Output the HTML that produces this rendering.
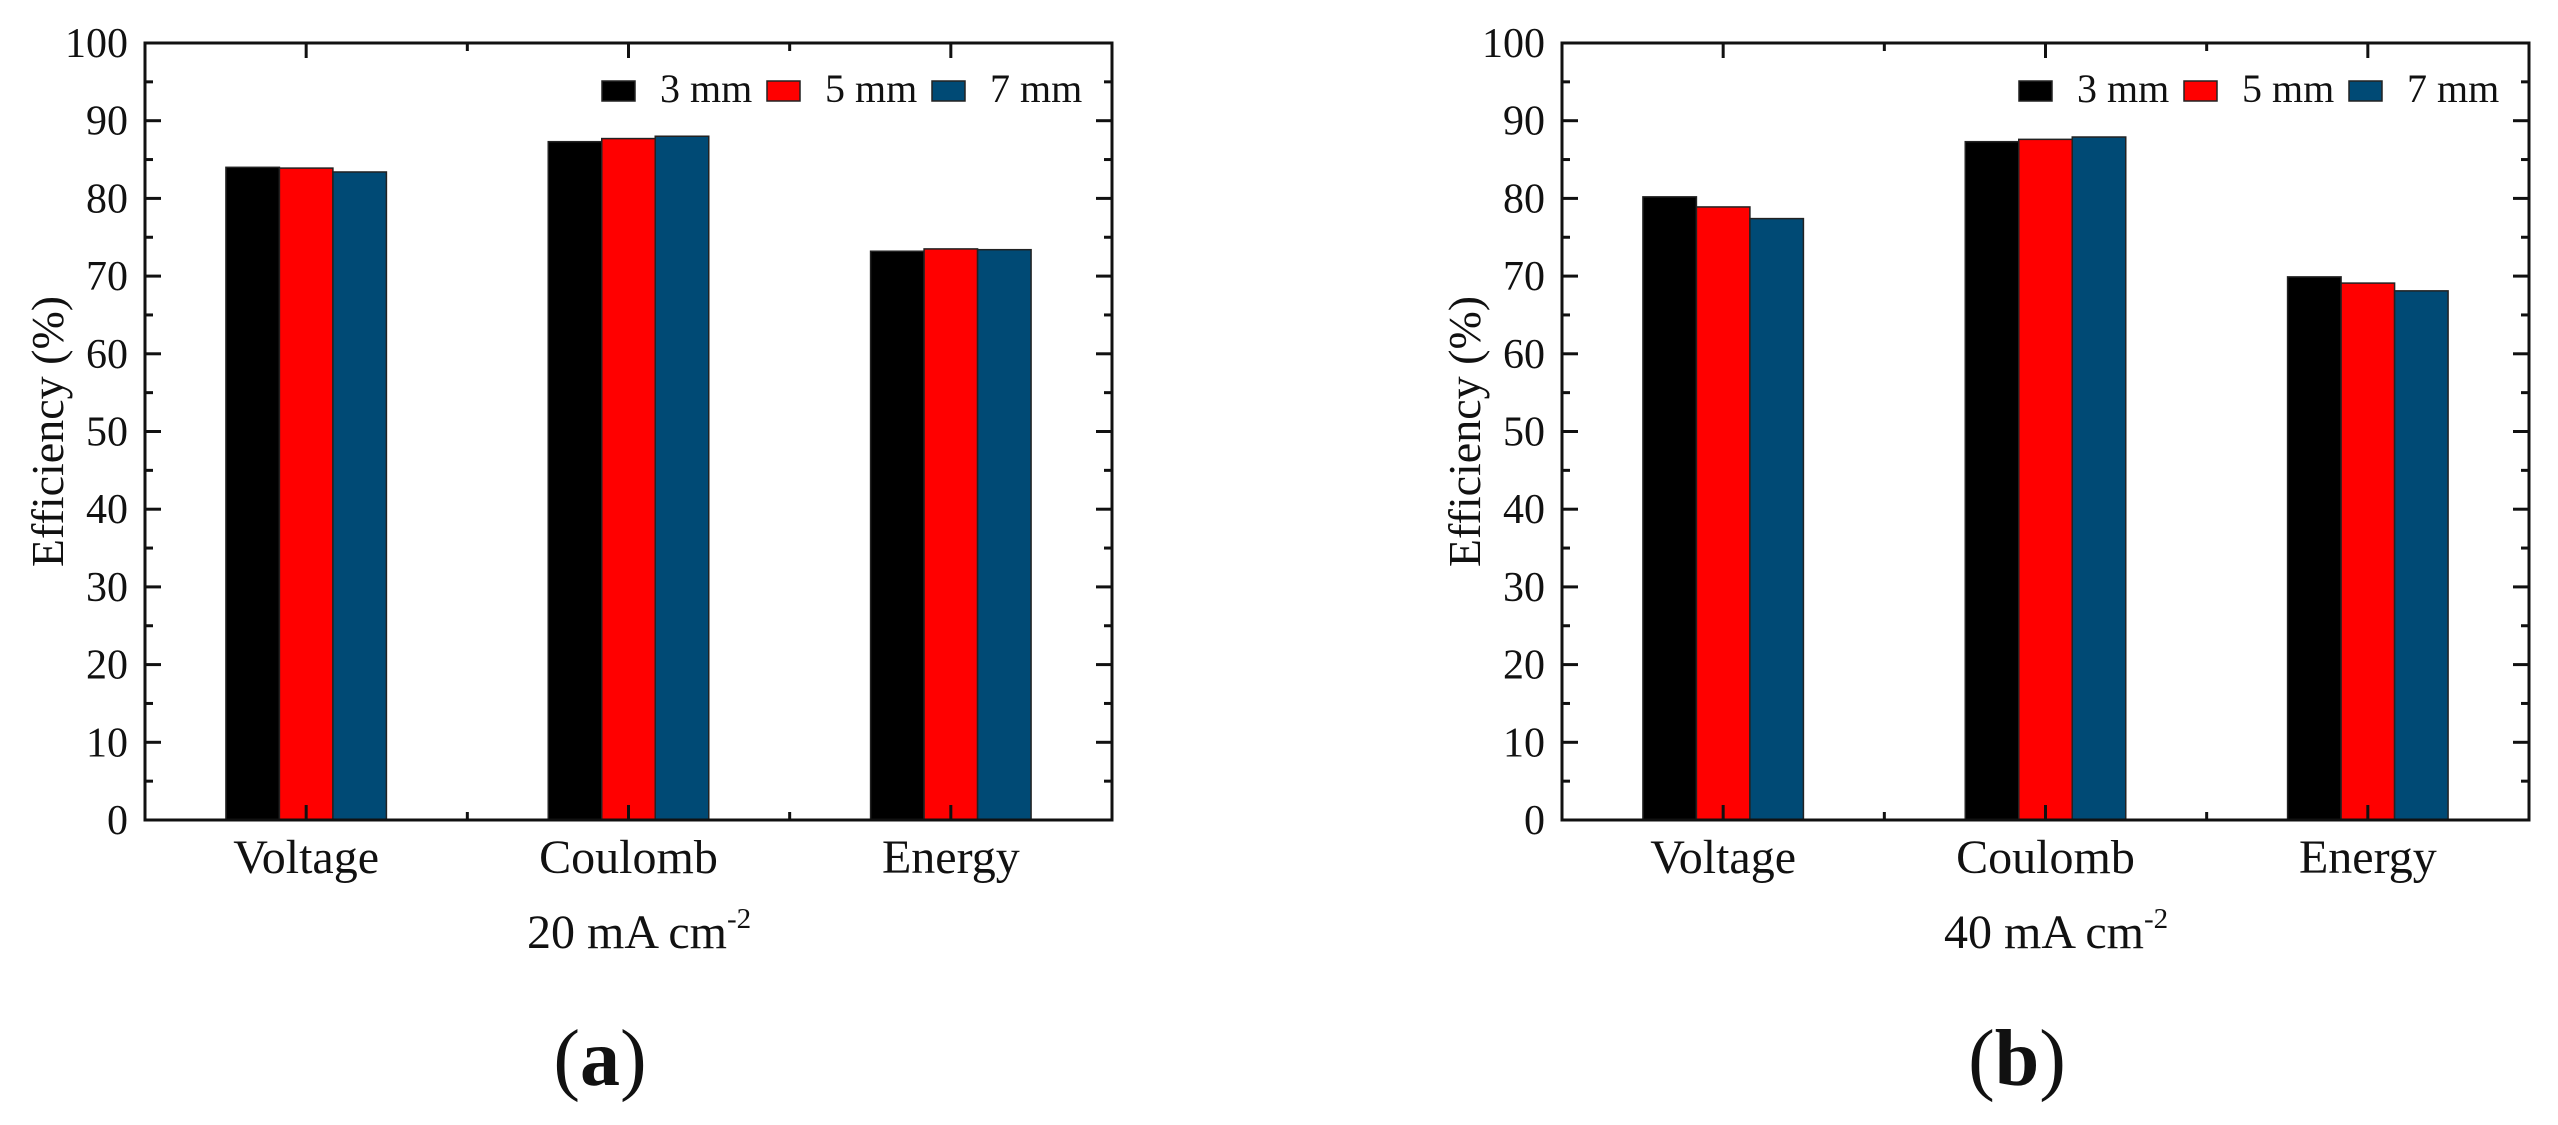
<!DOCTYPE html>
<html><head><meta charset="utf-8"><style>
html,body{margin:0;padding:0;background:#fff;}
svg{display:block;font-family:"Liberation Serif",serif;}
</style></head><body>
<svg id="fig" width="2558" height="1125" viewBox="0 0 2558 1125" xmlns="http://www.w3.org/2000/svg"></svg>
<script>
const categories = ["Voltage", "Coulomb", "Energy"];
const seriesNames = ["3 mm", "5 mm", "7 mm"];
const seriesColors = ["#000000", "#ff0000", "#004a75"];
const valuesA3 = [84.0, 87.3, 73.2];
const valuesA5 = [83.9, 87.7, 73.5];
const valuesA7 = [83.4, 88.0, 73.4];
const valuesB3 = [80.2, 87.3, 69.9];
const valuesB5 = [78.9, 87.6, 69.1];
const valuesB7 = [77.4, 87.9, 68.1];
const yTicks = [0, 10, 20, 30, 40, 50, 60, 70, 80, 90, 100];
const panels = [
  {id: "a", label: "a", cond: "20 mA cm", series: [valuesA3, valuesA5, valuesA7], ox: 0},
  {id: "b", label: "b", cond: "40 mA cm", series: [valuesB3, valuesB5, valuesB7], ox: 1417}
];

const NS = "http://www.w3.org/2000/svg";
const svg = document.getElementById("fig");
function mk(tag, attrs, parent) {
  const e = document.createElementNS(NS, tag);
  for (const k in attrs) e.setAttribute(k, attrs[k]);
  (parent || svg).appendChild(e);
  return e;
}

panels.forEach(p => {
  const L = 145 + p.ox, R = 1112 + p.ox, T = 43, B = 820;
  const g = mk("g", {});
  
  
  const catW = (R - L) / categories.length;
  const xc = i => L + catW * (i + 0.5);
  const y = v => B - (v - 0) / 100 * (B - T);
  const barW = 53.5;

  p.series.forEach((vals, s) => {
    vals.forEach((v, i) => {
      const x0 = xc(i) - 1.5 * barW + s * barW;
      const r = mk("rect", {x: x0, y: y(v), width: barW, height: B - y(v), fill: seriesColors[s], stroke: "#222", "stroke-width": 1.5}, g);
      
      
    });
  });

  const fr = mk("rect", {x: L, y: T, width: R - L, height: B - T, fill: "none", stroke: "#111", "stroke-width": 3}, g);
  
  

  yTicks.forEach(t => {
    const yy = y(t);
    mk("line", {x1: L, x2: L + 16, y1: yy, y2: yy, stroke: "#111", "stroke-width": 3}, g);
    mk("line", {x1: R, x2: R - 16, y1: yy, y2: yy, stroke: "#111", "stroke-width": 3}, g);
    if (t < 100) {
      const ym = y(t + 5);
      mk("line", {x1: L, x2: L + 8, y1: ym, y2: ym, stroke: "#111", "stroke-width": 3}, g);
      mk("line", {x1: R, x2: R - 8, y1: ym, y2: ym, stroke: "#111", "stroke-width": 3}, g);
    }
    const tx = mk("text", {x: L - 17, y: yy + 14, "text-anchor": "end", "font-size": 42, fill: "#111"}, g);
    tx.textContent = t;
    
    
  });

  categories.forEach((c, i) => {
    const x = xc(i);
    mk("line", {x1: x, x2: x, y1: B, y2: B - 15, stroke: "#111", "stroke-width": 3}, g);
    mk("line", {x1: x, x2: x, y1: T, y2: T + 15, stroke: "#111", "stroke-width": 3}, g);
    if (i < categories.length - 1) {
      const xm = L + catW * (i + 1);
      mk("line", {x1: xm, x2: xm, y1: B, y2: B - 8, stroke: "#111", "stroke-width": 3}, g);
      mk("line", {x1: xm, x2: xm, y1: T, y2: T + 8, stroke: "#111", "stroke-width": 3}, g);
    }
    const tx = mk("text", {x: x, y: 873, "text-anchor": "middle", "font-size": 48, fill: "#111"}, g);
    tx.textContent = c;
    
    
  });

  const xt = mk("text", {x: 527 + p.ox, y: 948, "font-size": 48, fill: "#111"}, g);
  
  
  xt.textContent = p.cond;
  const sup = mk("tspan", {dy: -20, "font-size": 29}, xt);
  sup.textContent = "-2";

  const yt = mk("text", {x: 0, y: 0, "text-anchor": "middle", "font-size": 46, fill: "#111", transform: "translate(" + (63 + p.ox) + "," + ((T + B) / 2) + ") rotate(-90)"}, g);
  yt.textContent = "Efficiency (%)";
  
  

  const legX = [602, 767, 932];
  seriesNames.forEach((n, s) => {
    const lg = mk("g", {}, g);
    
    
    mk("rect", {x: legX[s] + p.ox, y: 81, width: 33, height: 20, fill: seriesColors[s], stroke: "#222", "stroke-width": 1.5}, lg);
    const t = mk("text", {x: legX[s] + 58 + p.ox, y: 102, "font-size": 40, fill: "#111"}, lg);
    t.textContent = n;
  });

  const pl = mk("text", {x: 600 + p.ox, y: 1085, "text-anchor": "middle", "font-size": 80, fill: "#111"}, g);
  
  
  const a1 = mk("tspan", {}, pl); a1.textContent = "(";
  const a2 = mk("tspan", {"font-weight": "bold"}, pl); a2.textContent = p.label;
  const a3 = mk("tspan", {}, pl); a3.textContent = ")";
});
</script>
</body></html>
